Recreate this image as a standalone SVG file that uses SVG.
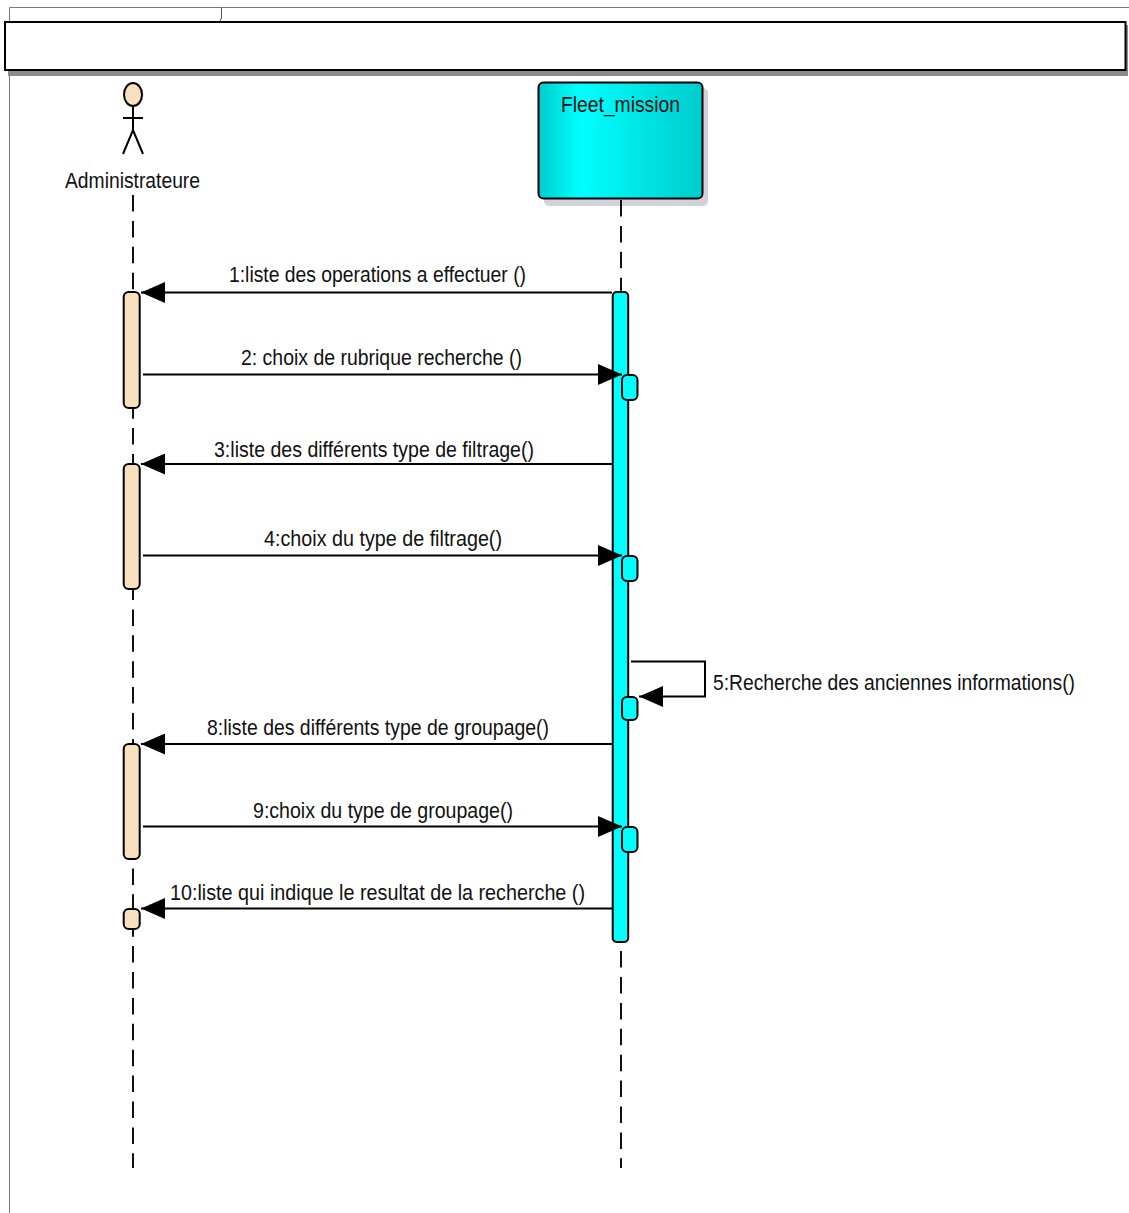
<svg xmlns="http://www.w3.org/2000/svg" width="1129" height="1213" viewBox="0 0 1129 1213">
<defs>
<linearGradient id="cy" x1="0" y1="0" x2="1" y2="0"><stop offset="0" stop-color="#00cccc"/><stop offset="0.25" stop-color="#00ffff"/><stop offset="1" stop-color="#00cccc"/></linearGradient>
<marker id="ah" markerUnits="userSpaceOnUse" markerWidth="24" markerHeight="21" refX="24" refY="10.500" orient="auto"><path d="M0,0 L24,10.500 L0,21 Z" fill="#000"/></marker>
</defs>
<style>
text{font-family:"Liberation Sans",Arial,sans-serif;font-size:22px;fill:#111}
.m{fill:none;stroke:#000;stroke-width:2}
.a{marker-end:url(#ah)}
.l{fill:none;stroke:#111;stroke-width:2;stroke-dasharray:16.500 9.400}
.bf{fill:#f8e0bf;stroke:#000;stroke-width:2}
.cb{fill:#00ffff;stroke:#000;stroke-width:2}
</style>
<rect width="1129" height="1213" fill="#fff"/>
<g id="frame">
<path d="M9.500,1213 V7.500 H1129" fill="none" stroke="#777" stroke-width="1"/>
<path d="M221.500,7.500 V18 L220,21" fill="none" stroke="#555" stroke-width="1"/>
<rect x="8" y="25" width="1120" height="51" fill="#8a8a8a"/>
<rect x="5" y="22" width="1120.500" height="48" fill="#fff" stroke="#000" stroke-width="2"/>
</g>
<g id="actor-administrateure">
<ellipse cx="134.500" cy="95.500" rx="9" ry="11.500" fill="#d0d2dc"/>
<ellipse cx="133" cy="94.500" rx="9" ry="11.500" fill="#f8e0bf" stroke="#000" stroke-width="2"/>
<path d="M133,106 V130 M123,118 H143 M123,154 L133,130 L143,154" fill="none" stroke="#000" stroke-width="2"/>
<text x="65" y="188" textLength="135" lengthAdjust="spacingAndGlyphs">Administrateure</text>
</g>
<g id="node-fleet-mission">
<rect x="544" y="88" width="164" height="118" rx="5" fill="#d0d2dc"/>
<rect x="538.500" y="82.500" width="164" height="116" rx="5" fill="url(#cy)" stroke="#000" stroke-width="2"/>
<text x="561" y="112" textLength="119" lengthAdjust="spacingAndGlyphs">Fleet_mission</text>
</g>
<g id="lifelines">
<path class="l" d="M133,195 V1168"/>
<path class="l" d="M621,200 V1168"/>
</g>
<g id="activations">
<rect class="bf" x="123.700" y="292" width="16" height="116" rx="5"/>
<rect class="bf" x="123.700" y="464" width="16" height="125" rx="5"/>
<rect class="bf" x="123.700" y="744" width="16" height="115" rx="5"/>
<rect class="bf" x="123.700" y="909" width="16" height="20" rx="5"/>
<rect class="cb" x="612.700" y="292" width="15.500" height="650" rx="4"/>
</g>
<g id="connectors">
<path class="m a" d="M612,292.500 H141"/>
<path class="m a" d="M143,374.500 H622"/>
<path class="m a" d="M612,464 H141"/>
<path class="m a" d="M143,555.500 H622"/>
<path class="m a" d="M631,661.500 H705 V696.500 H639"/>
<path class="m a" d="M612,744 H141"/>
<path class="m a" d="M143,826.500 H622"/>
<path class="m a" d="M612,908.500 H141"/>
</g>
<g id="nested-activations">
<rect class="cb" x="622" y="375" width="15.500" height="25" rx="5"/>
<rect class="cb" x="622" y="556" width="15.500" height="25" rx="5"/>
<rect class="cb" x="622" y="697" width="15.500" height="23" rx="5"/>
<rect class="cb" x="622" y="827" width="15.500" height="25" rx="5"/>
</g>
<g id="labels">
<text x="229" y="282" textLength="297" lengthAdjust="spacingAndGlyphs">1:liste des operations a effectuer ()</text>
<text x="241" y="365" textLength="281" lengthAdjust="spacingAndGlyphs">2: choix de rubrique recherche ()</text>
<text x="214" y="457" textLength="320" lengthAdjust="spacingAndGlyphs">3:liste des différents type de filtrage()</text>
<text x="264" y="546" textLength="238" lengthAdjust="spacingAndGlyphs">4:choix du type de filtrage()</text>
<text x="713" y="690" textLength="362" lengthAdjust="spacingAndGlyphs">5:Recherche des anciennes informations()</text>
<text x="207" y="735" textLength="342" lengthAdjust="spacingAndGlyphs">8:liste des différents type de groupage()</text>
<text x="253" y="818" textLength="260" lengthAdjust="spacingAndGlyphs">9:choix du type de groupage()</text>
<text x="170" y="900" textLength="415" lengthAdjust="spacingAndGlyphs">10:liste qui indique le resultat de la recherche ()</text>
</g>
</svg>
